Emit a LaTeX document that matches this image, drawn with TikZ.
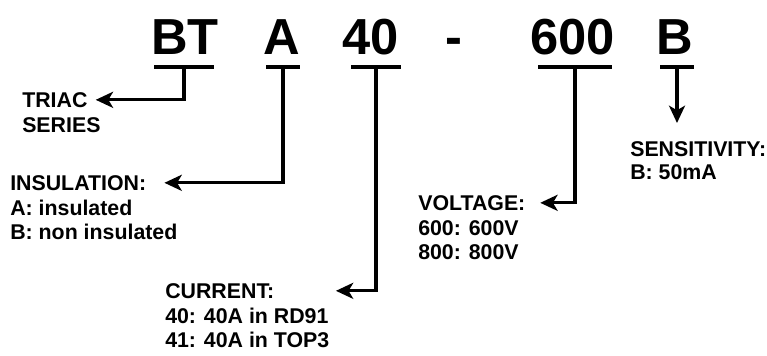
\documentclass[tikz,border=0pt]{standalone}
\usepackage{fontspec}
\setmainfont{Liberation Sans}
\usetikzlibrary{positioning,arrows.meta}

\tikzset{
  code/.style={font=\fontsize{38}{40}\selectfont\bfseries, inner sep=0pt, anchor=base west},
  ubar/.style={fill=black, inner sep=0pt, minimum height=3.2pt},
  head/.style={font=\fontsize{16}{18}\selectfont\bfseries, inner sep=0pt, anchor=north west},
  body/.style={head, align=left, font=\fontsize{16}{18}\selectfont\bfseries},
  conn/.style={line width=2.4pt, -{Stealth[length=13pt,width=12pt,inset=3.5pt]}},
}

\begin{document}
\begin{tikzpicture}[x=0.75pt, y=-0.75pt]
    \useasboundingbox (0,0) rectangle (767,355);

    % Part number
    \node[code] (cBT) at (151,54) {BT};
    \node[code] (cA) at (263,54) {A};
    \node[code] (c40) at (342,54) {40};
    \node[code] (cDash) at (445,54) {-};
    \node[code] (c600) at (530,54) {600};
    \node[code] (cB) at (656,54) {B};

    % Underlines
    \node[ubar, minimum width=45pt] (uBT) at (184,67) {};
    \node[ubar, minimum width=25pt] (uA) at (283,67) {};
    \node[ubar, minimum width=37.5pt] (u40) at (376,67) {};
    \node[ubar, minimum width=55pt] (u600) at (575,67) {};
    \node[ubar, minimum width=25pt] (uB) at (677,67) {};

    % Labels
    \node[head] (triac) at (22,92) {TRIAC};
    \node[body, below right=7pt and 0pt of triac.south west] (triacTxt) {SERIES};
    \node[head] (insul) at (10,175) {INSULATION:};
    \node[body, below right=7pt and 0pt of insul.south west] (insulTxt) {A: insulated\\B: non insulated};
    \node[head] (curr) at (165,283) {CURRENT:};
    \node[body, below right=7pt and 0pt of curr.south west] (currTxt) {40: 40A in RD91\\41: 40A in TOP3};
    \node[head] (volt) at (418,195) {VOLTAGE:};
    \node[body, below right=7pt and 0pt of volt.south west] (voltTxt) {600: 600V\\800: 800V};
    \node[head] (sens) at (630,141) {SENSITIVITY:};
    \node[body, below right=6pt and 0pt of sens.south west] (sensTxt) {B: 50mA};

    % Connectors
    \draw[conn, shorten >=6pt] (uBT) |- (triac.east);
    \draw[conn, shorten >=13.5pt] (uA) |- (insul.east);
    \draw[conn, shorten >=46pt] (u40) |- (curr.east);
    \draw[conn, shorten >=11pt] (u600) |- (volt.east);
    \draw[conn, shorten >=13.5pt] (uB) -- (uB |- sens.north);
\end{tikzpicture}
\end{document}
